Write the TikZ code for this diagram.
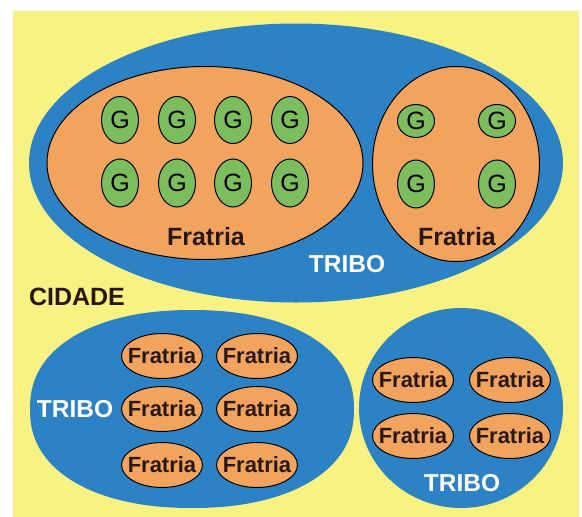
\documentclass[tikz,border=0pt]{standalone}
\usepackage{fontspec}
\setmainfont{Liberation Sans}
\usetikzlibrary{shapes.geometric}
\definecolor{bgyellow}{RGB}{247,242,130}
\definecolor{triboblue}{RGB}{44,130,196}
\definecolor{fratorange}{RGB}{242,164,94}
\definecolor{gensgreen}{RGB}{124,190,94}
\definecolor{inkdark}{RGB}{40,24,16}
\begin{document}
\begin{tikzpicture}[x=1pt,y=-1pt,
  tribo/.style={ellipse, fill=triboblue, inner sep=0pt},
  fratria/.style={ellipse, draw=black, line width=1pt, fill=fratorange, inner sep=0pt},
  smallfrat/.style={ellipse, draw=black, line width=1pt, fill=fratorange, inner sep=0pt,
    minimum width=81pt, minimum height=45pt,
    label={[text=inkdark, inner sep=0pt, font=\bfseries\fontsize{22}{22}\selectfont]center:#1}},
  gens/.style={ellipse, draw=black, line width=1pt, fill=gensgreen, inner sep=0pt,
    minimum width=37pt, text=black, font=\fontsize{25}{25}\selectfont},
  darklabel/.style={text=inkdark, font=\bfseries\fontsize{25}{25}\selectfont, inner sep=0pt},
  whitelabel/.style={text=white, font=\bfseries\fontsize{24.5}{24.5}\selectfont, inner sep=0pt}]
\useasboundingbox (0,0) rectangle (582,517);
\fill[white] (0,0) rectangle (582,517);
\fill[bgyellow] (13,11) rectangle (579,517);

% top tribe
\node[tribo, minimum width=534pt, minimum height=279pt] (tribeA) at (296,163) {};
\node[fratria, minimum width=316pt, minimum height=193pt] (fratA) at (205,163) {};
\node[fratria, minimum width=167pt, minimum height=195pt] (fratB) at (456,164) {};
\foreach \c [count=\i] in {120,177,233,290}{
  \node[gens, minimum height=47pt] (gA\i) at (\c,120) {G};
  \node[gens, minimum height=48pt] (gB\i) at (\c,183) {G};
}
\node[gens, minimum height=33pt] (gC1) at (416,121) {G};
\node[gens, minimum height=33pt] (gC2) at (497,121) {G};
\node[gens, minimum height=48pt] (gD1) at (416,184) {G};
\node[gens, minimum height=48pt] (gD2) at (497,184) {G};
\node[darklabel] (lfA) at (206,237) {Fratria};
\node[darklabel] (lfB) at (457,237) {Fratria};
\node[whitelabel] (ltA) at (347,264) {TRIBO};

\node[darklabel] (city) at (77,297) {CIDADE};

% bottom-left tribe (slightly squarish ellipse)
\fill[triboblue] plot[smooth cycle, domain=1:357, samples=90, variable=\t]
  ({192+162*cos(\t)*abs(cos(\t))^(-0.08)}, {409+99*sin(\t)*abs(sin(\t))^(-0.12)});
\coordinate (tribeB) at (192,409);
\foreach \r [count=\j] in {356,409,465}{
  \node[smallfrat=Fratria] (fL\j) at (162,\r) {};
  \node[smallfrat=Fratria] (fR\j) at (257,\r) {};
}
\node[whitelabel] (ltB) at (75,409) {TRIBO};

% bottom-right tribe
\node[tribo, minimum width=204pt, minimum height=200pt] (tribeC) at (461,408) {};
\node[smallfrat=Fratria] (fC1) at (413,380) {};
\node[smallfrat=Fratria] (fC2) at (510,380) {};
\node[smallfrat=Fratria] (fC3) at (413,436) {};
\node[smallfrat=Fratria] (fC4) at (510,436) {};
\node[whitelabel] (ltC) at (462,483) {TRIBO};
\end{tikzpicture}
\end{document}
